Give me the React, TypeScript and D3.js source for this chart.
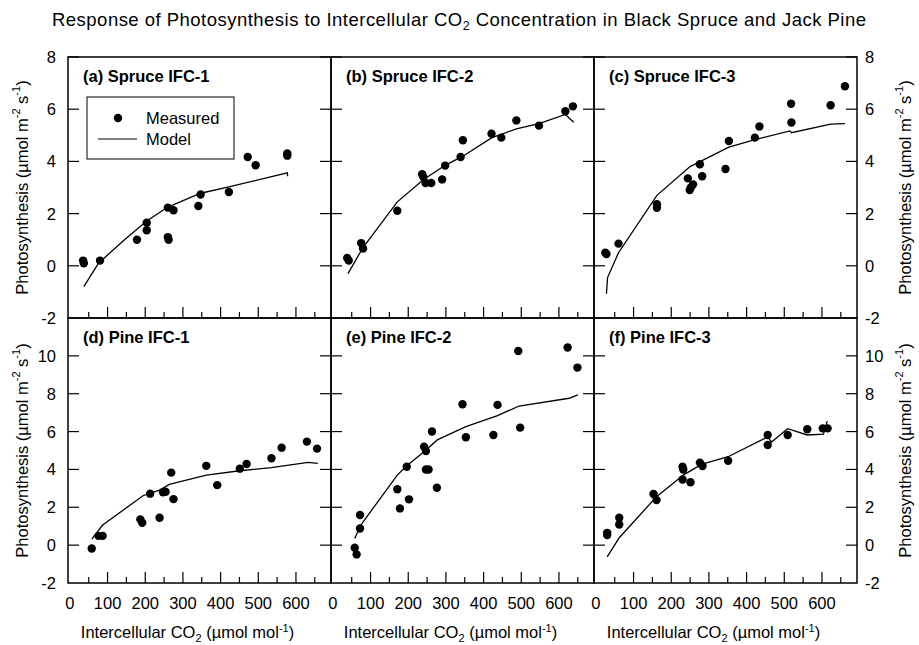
import React from "react";
import * as d3 from "d3";

// ---- Data -------------------------------------------------------------
const xTickValues = [0, 100, 200, 300, 400, 500, 600];
const xMinorTickValues = [50, 150, 250, 350, 450, 550, 650];
const topYTickValues = [-2, 0, 2, 4, 6, 8];
const bottomYTickValues = [-2, 0, 2, 4, 6, 8, 10];

type Pt = [number, number];

const spruce1Measured: Pt[] = [
  [35, 0.2], [37, 0.1], [80, 0.2], [178, 1.0], [204, 1.65], [204, 1.36],
  [260, 1.1], [262, 1.0], [260, 2.23], [275, 2.13], [341, 2.29], [347, 2.73],
  [422, 2.83], [472, 4.17], [493, 3.85], [577, 4.3], [577, 4.22],
];
const spruce1Model: Pt[] = [
  [37, -0.8], [76, 0.1], [145, 1.0], [204, 1.72], [260, 2.25], [347, 2.78],
  [422, 3.02], [577, 3.56], [578, 3.43],
];

const spruce2Measured: Pt[] = [
  [38, 0.3], [42, 0.2], [75, 0.87], [80, 0.66], [171, 2.11], [237, 3.51],
  [240, 3.4], [246, 3.17], [261, 3.17], [290, 3.31], [298, 3.84], [339, 4.17],
  [345, 4.81], [421, 5.06], [447, 4.91], [487, 5.57], [547, 5.37], [617, 5.92],
  [637, 6.11],
];
const spruce2Model: Pt[] = [
  [40, -0.3], [80, 0.7], [171, 2.45], [240, 3.3], [298, 3.85], [345, 4.2],
  [421, 4.9], [487, 5.25], [547, 5.45], [617, 5.8], [639, 5.5],
];

const spruce3Measured: Pt[] = [
  [25, 0.5], [28, 0.45], [60, 0.85], [162, 2.36], [162, 2.22], [244, 3.35],
  [249, 2.9], [252, 3.0], [258, 3.12], [276, 3.89], [282, 3.43], [344, 3.71],
  [353, 4.78], [422, 4.91], [434, 5.34], [518, 6.21], [519, 5.49], [623, 6.15],
  [661, 6.88],
];
const spruce3Model: Pt[] = [
  [28, -1.07], [31, -0.45], [60, 0.5], [162, 2.7], [250, 3.8], [353, 4.55],
  [422, 4.83], [515, 5.17], [519, 5.1], [623, 5.43], [661, 5.45],
];

const pine1Measured: Pt[] = [
  [58, -0.18], [76, 0.49], [87, 0.49], [187, 1.36], [192, 1.18], [213, 2.72],
  [238, 1.45], [247, 2.79], [254, 2.82], [269, 3.83], [275, 2.43], [362, 4.19],
  [391, 3.17], [451, 4.04], [469, 4.29], [535, 4.59], [562, 5.15], [629, 5.47],
  [656, 5.1],
];
const pine1Model: Pt[] = [
  [58, 0.32], [87, 1.06], [194, 2.61], [238, 2.91], [264, 3.21], [362, 3.7],
  [451, 3.93], [535, 4.1], [632, 4.37], [658, 4.32],
];

const pine2Measured: Pt[] = [
  [58, -0.14], [63, -0.49], [72, 0.88], [72, 1.59], [171, 2.95], [178, 1.94],
  [196, 4.14], [202, 2.42], [242, 5.2], [247, 4.97], [247, 4.0], [254, 4.0],
  [263, 6.0], [276, 3.03], [344, 7.44], [353, 5.7], [426, 5.82], [437, 7.41],
  [492, 10.26], [497, 6.21], [623, 10.44], [649, 9.38],
];
const pine2Model: Pt[] = [
  [58, 0.35], [74, 1.06], [171, 3.7], [196, 4.19], [242, 4.94], [277, 5.56],
  [353, 6.26], [437, 6.84], [494, 7.35], [627, 7.76], [650, 7.94],
];

const pine3Measured: Pt[] = [
  [30, 0.65], [30, 0.53], [62, 1.45], [62, 1.09], [153, 2.7], [161, 2.38],
  [230, 4.14], [232, 4.0], [230, 3.47], [251, 3.32], [276, 4.36], [283, 4.18],
  [351, 4.46], [456, 5.82], [456, 5.29], [509, 5.82], [561, 6.12], [602, 6.17],
  [615, 6.17],
];
const pine3Model: Pt[] = [
  [30, -0.62], [62, 0.39], [161, 2.56], [232, 3.7], [280, 4.27], [351, 4.67],
  [456, 5.72], [466, 5.45], [509, 6.15], [561, 5.82], [604, 5.86], [614, 6.55],
];

const panelLabels = [
  "(a) Spruce IFC-1", "(b) Spruce IFC-2", "(c) Spruce IFC-3",
  "(d) Pine IFC-1", "(e) Pine IFC-2", "(f) Pine IFC-3",
];

// ---- Layout -----------------------------------------------------------
const W = 919;
const H = 645;
const LEFT = 68;
const PANEL_W = 263;
const X_DOMAIN = [-5, 693];
const ROWS = [
  { top: 57, bottom: 318, domain: [-2, 8], ticks: topYTickValues },
  { top: 318, bottom: 583, domain: [-2, 12], ticks: bottomYTickValues },
];
const FONT = "Liberation Sans, Arial, Helvetica, sans-serif";
const FS = 16.5;

const panels = [
  { measured: spruce1Measured, model: spruce1Model, row: 0, col: 0 },
  { measured: spruce2Measured, model: spruce2Model, row: 0, col: 1 },
  { measured: spruce3Measured, model: spruce3Model, row: 0, col: 2 },
  { measured: pine1Measured, model: pine1Model, row: 1, col: 0 },
  { measured: pine2Measured, model: pine2Model, row: 1, col: 1 },
  { measured: pine3Measured, model: pine3Model, row: 1, col: 2 },
].map((p, i) => ({ ...p, label: panelLabels[i] }));

function YLabel({ x, y }: { x: number; y: number }) {
  return (
    <text
      transform={`translate(${x},${y}) rotate(-90)`}
      textAnchor="middle"
      dominantBaseline="central"
      fontSize={FS}
      fontFamily={FONT}
    >
      Photosynthesis (µmol m
      <tspan dy={-6} fontSize={11}>-2</tspan>
      <tspan dy={6}> s</tspan>
      <tspan dy={-6} fontSize={11}>-1</tspan>
      <tspan dy={6}>)</tspan>
    </text>
  );
}

function XLabel({ x, y }: { x: number; y: number }) {
  return (
    <text x={x} y={y} textAnchor="middle" fontSize={FS} fontFamily={FONT}>
      Intercellular CO
      <tspan dy={4} fontSize={11}>2</tspan>
      <tspan dy={-4}> (µmol mol</tspan>
      <tspan dy={-6} fontSize={11}>-1</tspan>
      <tspan dy={6}>)</tspan>
    </text>
  );
}

function Panel({ p }: { p: (typeof panels)[number] }) {
  const row = ROWS[p.row];
  const x0 = LEFT + p.col * PANEL_W;
  const x = d3.scaleLinear().domain(X_DOMAIN).range([x0, x0 + PANEL_W]);
  const y = d3.scaleLinear().domain(row.domain).range([row.bottom, row.top]);
  const line = d3
    .line<Pt>()
    .x((d) => x(d[0]))
    .y((d) => y(d[1]));
  const innerY = row.ticks.filter((t) => t > row.domain[0]);
  return (
    <g>
      <clipPath id={`clip-${p.row}-${p.col}`}>
        <rect x={x0} y={row.top} width={PANEL_W} height={row.bottom - row.top} />
      </clipPath>
      {/* y ticks pointing inward on both sides */}
      {innerY.map((t) => (
        <g key={t} stroke="#000" strokeWidth={1.2}>
          <line x1={x0} x2={x0 + 11} y1={y(t)} y2={y(t)} />
          <line x1={x0 + PANEL_W} x2={x0 + PANEL_W - 11} y1={y(t)} y2={y(t)} />
        </g>
      ))}
      {/* x ticks along the bottom */}
      {xTickValues.filter((t) => t > 0).map((t) => (
        <line key={t} x1={x(t)} x2={x(t)} y1={row.bottom} y2={row.bottom - 11} stroke="#000" strokeWidth={1.2} />
      ))}
      {xMinorTickValues.map((t) => (
        <line key={t} x1={x(t)} x2={x(t)} y1={row.bottom} y2={row.bottom - 6} stroke="#000" strokeWidth={1.2} />
      ))}
      <g clipPath={`url(#clip-${p.row}-${p.col})`}>
        <path d={line(p.model) || ""} fill="none" stroke="#000" strokeWidth={1.3} />
        {p.measured.map((d, i) => (
          <circle key={i} cx={x(d[0])} cy={y(d[1])} r={4.2} fill="#000" />
        ))}
      </g>
      <rect x={x0} y={row.top} width={PANEL_W} height={row.bottom - row.top} fill="none" stroke="#000" strokeWidth={1.5} />
      <text x={x0 + 15} y={row.top + 25} fontSize={FS} fontWeight="bold" fontFamily={FONT}>
        {p.label}
      </text>
    </g>
  );
}

export default function App() {
  const right = LEFT + 3 * PANEL_W;
  const bottom = ROWS[1].bottom;
  const xa = d3.scaleLinear().domain(X_DOMAIN).range([0, PANEL_W]);
  return (
    <svg
      width={W}
      height={H}
      style={{ display: "block", position: "absolute", left: 0, top: 0, background: "#fff" }}
    >
      <text x={459} y={26} textAnchor="middle" fontSize={18.5} fontFamily={FONT} textLength={814} lengthAdjust="spacing">
        Response of Photosynthesis to Intercellular CO
        <tspan dy={4} fontSize={12.5}>2</tspan>
        <tspan dy={-4}> Concentration in Black Spruce and Jack Pine</tspan>
      </text>

      {panels.map((p, i) => (
        <Panel key={i} p={p} />
      ))}

      {/* y tick labels, left and right */}
      {ROWS.map((row, ri) => {
        const y = d3.scaleLinear().domain(row.domain).range([row.bottom, row.top]);
        return (
          <g key={ri} fontSize={FS} fontFamily={FONT}>
            {row.ticks.map((t) => (
              <text key={`l${t}`} x={LEFT - 12} y={y(t)} textAnchor="end" dominantBaseline="central">
                {t}
              </text>
            ))}
            {row.ticks.map((t) => (
              <text key={`r${t}`} x={right + 8} y={y(t)} textAnchor="start" dominantBaseline="central">
                {t}
              </text>
            ))}
          </g>
        );
      })}

      {/* x tick labels and titles */}
      {[0, 1, 2].map((c) => (
        <g key={c}>
          {xTickValues.map((t) => (
            <text
              key={t}
              x={LEFT + c * PANEL_W + xa(t)}
              y={bottom + 26}
              textAnchor="middle"
              fontSize={FS}
              fontFamily={FONT}
            >
              {t}
            </text>
          ))}
          <XLabel x={LEFT + c * PANEL_W + PANEL_W / 2 - 12} y={bottom + 55} />
        </g>
      ))}

      {ROWS.map((row, ri) => (
        <g key={ri}>
          <YLabel x={22} y={(row.top + row.bottom) / 2} />
          <YLabel x={905} y={(row.top + row.bottom) / 2} />
        </g>
      ))}

      {/* legend */}
      <g fontFamily={FONT} fontSize={FS}>
        <rect x={87} y={97} width={147} height={62} fill="#fff" stroke="#000" strokeWidth={1} />
        <circle cx={118} cy={118} r={4.2} fill="#000" />
        <text x={146} y={118} dominantBaseline="central">Measured</text>
        <line x1={98} x2={137} y1={139} y2={139} stroke="#000" strokeWidth={1.2} />
        <text x={146} y={139} dominantBaseline="central">Model</text>
      </g>
    </svg>
  );
}
